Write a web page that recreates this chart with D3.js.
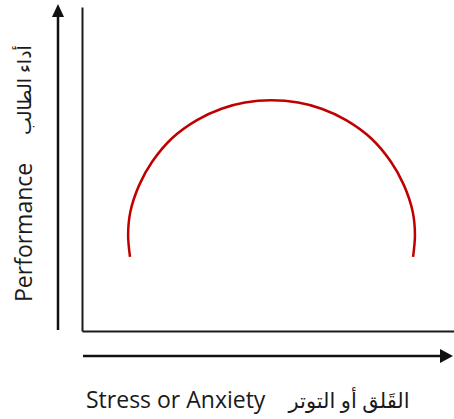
<!DOCTYPE html>
<html>
<head>
<meta charset="utf-8">
<script src="https://cdn.jsdelivr.net/npm/d3@7"></script>
<style>
  body { margin: 0; background: #fff; }
  svg { display: block; }
  text { font-family: "Open Sans", "DejaVu Sans", sans-serif; fill: #1a1a1a; }
</style>
</head>
<body>
<svg></svg>
<script>
// points (stress 0-100, performance 0-100)
const stress = [12.9, 12.4, 13.0, 15.4, 18.9, 24.2, 30.9, 37.5, 43.8, 50.9, 58.1, 64.4, 71.0, 77.7, 83.0, 86.5, 88.9, 89.5, 89.0];
const performance = [22.9, 29.6, 36.8, 45.1, 52.3, 59.5, 65.1, 68.6, 70.5, 71.2, 70.5, 68.6, 65.1, 59.5, 52.3, 45.1, 36.8, 29.6, 22.9];
const xLabel = ["Stress or Anxiety", "القَلق أو التوتر"];
const yLabel = ["Performance", "أداء الطالب"];

const width = 454, height = 419;
const margin = {top: 7, right: 0, bottom: 88, left: 82};

const svg = d3.select("svg")
  .attr("width", width)
  .attr("height", height);

const x = d3.scaleLinear()
  .domain([0, 100])
  .range([margin.left, width - margin.right]);

const y = d3.scaleLinear()
  .domain([0, 100])
  .range([height - margin.bottom, margin.top]);

// frame (axes without ticks)
svg.append("g")
  .attr("class", "axis")
  .attr("transform", "translate(0," + y(0) + ")")
  .call(d3.axisBottom(x).tickValues([]).tickSizeOuter(0));

svg.append("g")
  .attr("class", "axis")
  .attr("transform", "translate(" + x(0) + ",0)")
  .call(d3.axisLeft(y).tickValues([]).tickSizeOuter(0));

svg.selectAll(".axis path")
  .attr("stroke", "#1a1a1a")
  .attr("stroke-width", 2);

// arrows outside the frame
const arrowX = 58, arrowY = 356;

svg.append("line")
  .attr("x1", arrowX).attr("x2", arrowX)
  .attr("y1", y(0) - 1).attr("y2", 16)
  .attr("stroke", "#111").attr("stroke-width", 2.5);
svg.append("path")
  .attr("d", `M${arrowX - 6},17L${arrowX + 6},17L${arrowX},4Z`)
  .attr("fill", "#111");

svg.append("line")
  .attr("x1", x(0) + 1).attr("x2", 441)
  .attr("y1", arrowY).attr("y2", arrowY)
  .attr("stroke", "#111").attr("stroke-width", 2.5);
svg.append("path")
  .attr("d", `M440,${arrowY - 7}L440,${arrowY + 7}L453,${arrowY}Z`)
  .attr("fill", "#111");

// the curve
const line = d3.line()
  .x(d => x(d[0]))
  .y(d => y(d[1]))
  .curve(d3.curveCatmullRom.alpha(0.5));

svg.append("path")
  .datum(d3.zip(stress, performance))
  .attr("fill", "none")
  .attr("stroke", "#c00000")
  .attr("stroke-width", 2.5)
  .attr("d", line);

// labels
svg.append("text")
  .attr("x", 86).attr("y", 408)
  .attr("font-size", 23)
  .text(xLabel[0]);
svg.append("text")
  .attr("x", 349).attr("y", 408)
  .attr("text-anchor", "middle")
  .attr("font-size", 21)
  .text(xLabel[1]);

svg.append("text")
  .attr("transform", "translate(32,302) rotate(-90)")
  .attr("font-size", 23)
  .text(yLabel[0]);
svg.append("text")
  .attr("transform", "translate(31,90) rotate(-90)")
  .attr("text-anchor", "middle")
  .attr("font-size", 19)
  .text(yLabel[1]);
</script>
</body>
</html>
